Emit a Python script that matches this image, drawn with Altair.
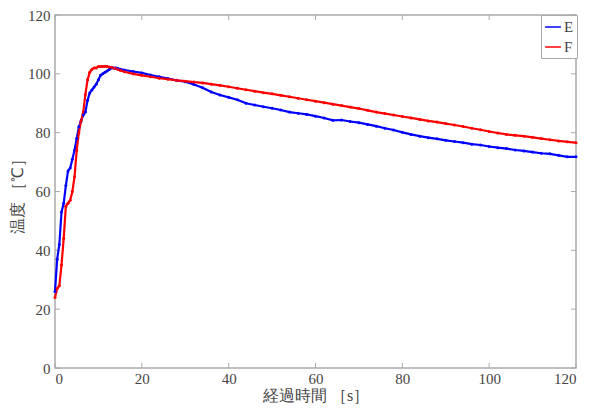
import altair as alt
import pandas as pd

# time [s]
t_early = [0, 0.5, 1, 1.5, 2, 2.5, 3, 3.5, 4, 4.5, 5, 5.5, 6, 6.5, 7, 7.5, 8, 8.5, 9, 9.5,
           10, 10.5, 11, 11.5, 12, 12.5, 13, 13.5, 14, 14.5, 15]
t_late = [16, 18, 20, 22, 24, 26, 28, 30, 32, 34, 36, 38, 40, 42, 44, 46, 48, 50, 52, 54,
          56, 58, 60, 62, 64, 66, 68, 70, 72, 74, 76, 78, 80, 82, 84, 86, 88, 90, 92, 94,
          96, 98, 100, 102, 104, 106, 108, 110, 112, 114, 116, 118, 120]

E_early = [26, 37, 42, 53, 56, 62, 67, 68, 71, 74, 78, 82, 84, 86, 87, 91, 93.5, 94.5, 95.5, 96.5,
           98, 99.5, 100, 100.5, 101, 101.5, 102, 102, 102, 101.8, 101.6]
E_late = [101.3, 100.8, 100.3, 99.6, 99.0, 98.4, 97.8, 97.3, 96.4, 95.3, 93.8, 92.8, 92.0, 91.2,
          90.0, 89.4, 88.8, 88.3, 87.7, 87.0, 86.6, 86.2, 85.6, 85.0, 84.2, 84.3, 83.8, 83.4,
          82.8, 82.2, 81.5, 80.9, 80.1, 79.4, 78.8, 78.3, 77.9, 77.4, 77.0, 76.6, 76.1, 75.8,
          75.3, 74.9, 74.6, 74.1, 73.8, 73.4, 73.0, 72.8, 72.3, 71.8, 71.8]

F_early = [24, 27, 28, 35, 44, 55, 56, 57, 60, 65, 74, 80, 84, 87, 93, 98, 100.5, 101.5, 102, 102,
           102.5, 102.5, 102.5, 102.6, 102.5, 102.3, 102.2, 102, 101.8, 101.5, 101.2]
F_late = [100.7, 100.0, 99.5, 99.0, 98.5, 98.2, 97.8, 97.5, 97.2, 96.9, 96.5, 96.1, 95.6, 95.1,
          94.6, 94.1, 93.6, 93.2, 92.7, 92.2, 91.7, 91.2, 90.7, 90.2, 89.7, 89.2, 88.7, 88.2,
          87.6, 87.0, 86.5, 86.0, 85.5, 85.0, 84.5, 84.0, 83.6, 83.1, 82.6, 82.1, 81.5, 81.0,
          80.4, 79.9, 79.4, 79.1, 78.8, 78.4, 78.0, 77.6, 77.2, 76.9, 76.6]

series = ["E", "F"]
colors = ["#0000ff", "#ff0000"]
x_ticks = [0, 20, 40, 60, 80, 100, 120]
y_ticks = [0, 20, 40, 60, 80, 100, 120]

W, H = 521, 353
t_all = t_early + t_late
rows = []
for name, vals in zip(series, [E_early + E_late, F_early + F_late]):
    for i, (t, v) in enumerate(zip(t_all, vals)):
        rows.append({"t": t, "v": v, "s": name, "o": i})
df = pd.DataFrame(rows)

xs = alt.Scale(domain=[0, 120], nice=False)
ys = alt.Scale(domain=[0, 120], nice=False)
AX = "#aaaaaa"
LBL = "#444444"
FONT = "serif"

lines = alt.Chart(df).mark_line(
    strokeWidth=2.2, point=alt.OverlayMarkDef(filled=True, size=9)
).encode(
    x=alt.X("t:Q", scale=xs,
            axis=alt.Axis(values=x_ticks, title="経過時間 ［s］", grid=False, domain=False,
                          ticks=False, labelPadding=3, titlePadding=1, format="d")),
    y=alt.Y("v:Q", scale=ys,
            axis=alt.Axis(values=y_ticks, title="温度 ［℃］", grid=False, domain=False,
                          ticks=False, labelPadding=5, titlePadding=2, format="d")),
    color=alt.Color("s:N", scale=alt.Scale(domain=series, range=colors),
                    legend=alt.Legend(title=None, orient="none", legendX=486, legendY=0,
                                      symbolType="stroke", symbolSize=250,
                                      symbolStrokeWidth=1.5, labelFont=FONT,
                                      labelFontSize=15, labelColor=LBL, labelOffset=2,
                                      strokeColor=AX, fillColor="white", padding=3,
                                      rowPadding=3)),
    order="o:Q",
)

xt = pd.DataFrame({"t": x_ticks})
yt = pd.DataFrame({"v": y_ticks})
tb = alt.Chart(xt).mark_rule(color=AX, strokeWidth=1).encode(
    x=alt.X("t:Q", scale=xs), y=alt.value(H), y2=alt.value(H - 5))
tt = alt.Chart(xt).mark_rule(color=AX, strokeWidth=1).encode(
    x=alt.X("t:Q", scale=xs), y=alt.value(0), y2=alt.value(5))
tl = alt.Chart(yt).mark_rule(color=AX, strokeWidth=1).encode(
    y=alt.Y("v:Q", scale=ys), x=alt.value(0), x2=alt.value(5))
tr = alt.Chart(yt).mark_rule(color=AX, strokeWidth=1).encode(
    y=alt.Y("v:Q", scale=ys), x=alt.value(W), x2=alt.value(W - 5))

chart = alt.layer(tb, tt, tl, tr, lines).properties(
    width=W, height=H,
    autosize=alt.AutoSizeParams(type="none"),
    padding={"left": 47, "top": 7, "right": 6, "bottom": 36},
).configure_view(
    stroke=AX, strokeWidth=1.5
).configure_axis(
    labelFont=FONT, labelFontSize=15, labelColor=LBL,
    titleFont=FONT, titleFontSize=16, titleColor=LBL, titleFontWeight="normal",
)

chart.save("out.html", embed_options={"renderer": "svg", "actions": False})
